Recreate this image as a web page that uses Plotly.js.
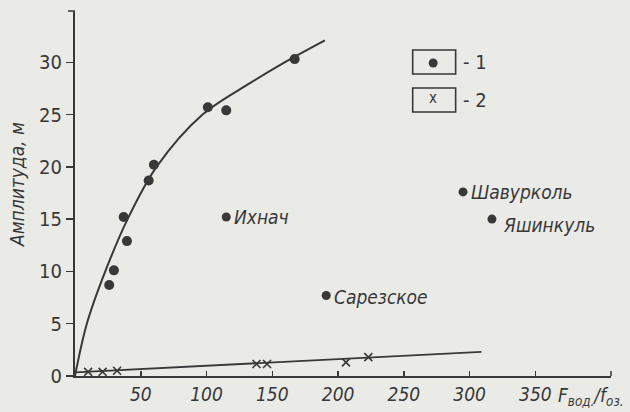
<!DOCTYPE html>
<html>
<head>
<meta charset="utf-8">
<script src="https://cdn.plot.ly/plotly-3.0.1.min.js"></script>
<style>html,body{margin:0;padding:0;background:#eaeae7;}#chart{width:630px;height:412px;}</style>
</head>
<body>
<div id="chart"></div>
<script>
// Series 1 (dots): main cluster
const s1X = [26, 29.6, 37, 39.5, 56, 60, 101, 115, 167];
const s1Y = [8.7, 10.1, 15.2, 12.9, 18.7, 20.2, 25.7, 25.4, 30.3];
// Series 1 named lakes
const lakeNames = ['Ихнач', 'Шавурколь', 'Яшинкуль', 'Сарезское'];
const lakeX = [115, 295, 317, 191];
const lakeY = [15.2, 17.6, 15.0, 7.7];
// Fitted curve 1
const curve1X = [0, 9, 23, 40, 62, 97, 133, 158, 190];
const curve1Y = [0, 5, 10, 15, 20, 25, 28, 29.9, 32.1];
// Series 2 (crosses)
const s2X = [10, 21, 32, 138, 146, 206, 223];
const s2Y = [0.4, 0.4, 0.5, 1.15, 1.15, 1.3, 1.8];
// Fitted line 2
const line2X = [0, 309];
const line2Y = [0.35, 2.3];
// Axis ticks
const xTicks = [50, 100, 150, 200, 250, 300, 350];
const yTicks = [0, 5, 10, 15, 20, 25, 30];
const xMax = 407.5, yMax = 34.9;

const ink = '#383838';
const fontFam = '"DejaVu Sans Condensed", "Liberation Sans Narrow", "Liberation Sans", sans-serif';

const traces = [
  {x: curve1X, y: curve1Y, mode: 'lines', line: {color: ink, width: 2, shape: 'spline', smoothing: 1}, hoverinfo: 'skip'},
  {x: line2X, y: line2Y, mode: 'lines', line: {color: ink, width: 1.8}, hoverinfo: 'skip'},
  {x: s1X, y: s1Y, mode: 'markers', marker: {color: ink, size: 10}},
  {x: lakeX, y: lakeY, mode: 'markers', marker: {color: ink, size: 9}},
  {x: s2X, y: s2Y, mode: 'markers', marker: {color: ink, size: 8, symbol: 'x-thin', line: {color: ink, width: 1.6}}}
];

const annotations = lakeNames.map((n, i) => ({
  x: lakeX[i], y: lakeY[i], xref: 'x', yref: 'y', text: n, showarrow: false,
  xanchor: 'left', yanchor: 'middle', xshift: (i === 2 ? 9 : 6), yshift: (i === 2 ? -6 : (i === 3 ? -2 : 0)),
  font: {family: fontFam, size: 19, color: ink, style: 'italic'}
}));

const px = v => (v - 75) / 536.5;
const py = v => (376 - v) / 365;

annotations.push(
  {xref: 'paper', yref: 'paper', x: px(17), y: py(185), xanchor: 'center', yanchor: 'middle', text: 'Амплитуда, м', textangle: -90, showarrow: false,
   font: {family: fontFam, size: 19, color: ink, style: 'italic'}},
  {xref: 'paper', yref: 'paper', x: px(556), y: py(396), xanchor: 'left', yanchor: 'middle', text: 'F<sub>вод.</sub>/f<sub>оз.</sub>', showarrow: false,
   font: {family: fontFam, size: 19, color: ink, style: 'italic'}},
  {xref: 'paper', yref: 'paper', x: px(433), y: py(98), xanchor: 'center', yanchor: 'middle', text: 'x', showarrow: false,
   font: {family: fontFam, size: 15, color: ink}},
  {xref: 'paper', yref: 'paper', x: px(461), y: py(62), xanchor: 'left', yanchor: 'middle', text: '- 1', showarrow: false,
   font: {family: fontFam, size: 20, color: ink}},
  {xref: 'paper', yref: 'paper', x: px(461), y: py(100), xanchor: 'left', yanchor: 'middle', text: '- 2', showarrow: false,
   font: {family: fontFam, size: 20, color: ink}}
);

const shapes = [
  {type: 'rect', xref: 'paper', yref: 'paper', x0: px(413), x1: px(456), y0: py(74), y1: py(50), line: {color: ink, width: 1.6}},
  {type: 'rect', xref: 'paper', yref: 'paper', x0: px(413), x1: px(456), y0: py(112), y1: py(88), line: {color: ink, width: 1.6}},
  {type: 'circle', xref: 'paper', yref: 'paper', x0: px(429), x1: px(438), y0: py(67.5), y1: py(58.5), fillcolor: ink, line: {color: ink, width: 0}},
  // end ticks of the axes
  {type: 'line', xref: 'paper', yref: 'paper', x0: px(68), x1: px(75), y0: 1, y1: 1, line: {color: ink, width: 1.5}},
  {type: 'line', xref: 'paper', yref: 'paper', x0: 1, x1: 1, y0: 0, y1: py(371), line: {color: ink, width: 1.5}}
];

const layout = {
  width: 630, height: 412,
  margin: {l: 75, r: 18.5, t: 11, b: 36},
  paper_bgcolor: '#eaeae7', plot_bgcolor: 'rgba(0,0,0,0)',
  showlegend: false,
  xaxis: {
    range: [0, xMax], showgrid: false, zeroline: false,
    showline: true, linecolor: ink, linewidth: 2,
    tickvals: xTicks, ticktext: xTicks.map(String),
    ticks: 'inside', ticklen: 5, tickwidth: 1.5, tickcolor: ink,
    tickfont: {family: fontFam, size: 19, color: ink, style: 'italic'}
  },
  yaxis: {
    range: [0, yMax], showgrid: false, zeroline: false,
    showline: true, linecolor: ink, linewidth: 2,
    tickvals: yTicks, ticktext: yTicks.map(String),
    ticks: 'outside', ticklen: 7, tickwidth: 1.5, tickcolor: ink,
    tickfont: {family: fontFam, size: 20, color: ink}
  },
  annotations: annotations,
  shapes: shapes
};

Plotly.newPlot('chart', traces, layout, {staticPlot: true});
</script>
</body>
</html>
